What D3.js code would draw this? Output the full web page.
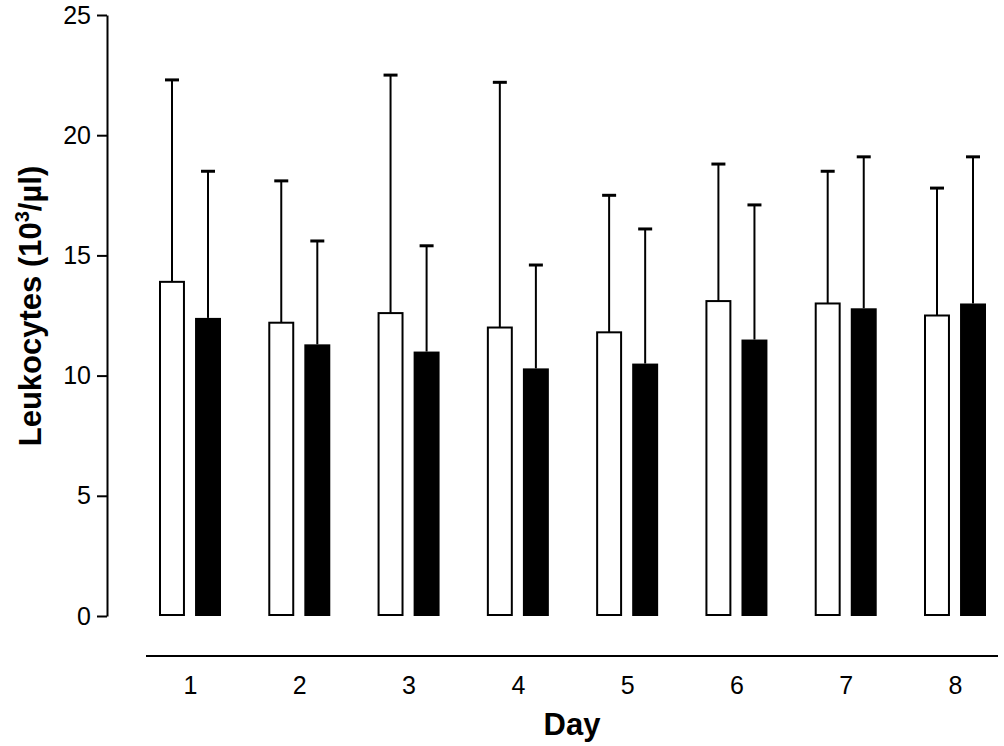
<html>
<script src='https://d3js.org/d3.v7.min.js'></script>
<style>
  body { margin: 0; background: #fff; }
  text { font-family: 'Liberation Sans', Arial, sans-serif; fill: #000; }
</style>
<body onload='init()'>
<svg width=1004 height=746></svg>
<script>
// data
var days = ["1", "2", "3", "4", "5", "6", "7", "8"];
var groups = ["open", "filled"];
var openMean = [13.9, 12.2, 12.6, 12.0, 11.8, 13.1, 13.0, 12.5];
var openUpper = [22.3, 18.1, 22.5, 22.2, 17.5, 18.8, 18.5, 17.8];
var filledMean = [12.4, 11.3, 11.0, 10.3, 10.5, 11.5, 12.8, 13.0];
var filledUpper = [18.5, 15.6, 15.4, 14.6, 16.1, 17.1, 19.1, 19.1];
var yTicks = [0, 5, 10, 15, 20, 25];

function init() {
  var svg = d3.select("svg");

  var y = d3.scaleLinear().domain([0, 25]).range([616, 15]);
  var x = d3.scalePoint().domain(days).range([190, 955]);
  var xi = d3.scaleBand().domain(groups).range([-31, 31]).paddingInner(0.28);

  var rows = [];
  days.forEach(function(d, i) {
    rows.push({day: d, g: "open", mean: openMean[i], upper: openUpper[i]});
    rows.push({day: d, g: "filled", mean: filledMean[i], upper: filledUpper[i]});
  });

  // error whiskers (upper only)
  var bars = svg.append("g");
  bars.selectAll("line.err")
    .data(rows).enter().append("line")
    .attr("x1", function(d) { return x(d.day) + xi(d.g) + xi.bandwidth() / 2; })
    .attr("x2", function(d) { return x(d.day) + xi(d.g) + xi.bandwidth() / 2; })
    .attr("y1", function(d) { return y(d.mean); })
    .attr("y2", function(d) { return y(d.upper); })
    .attr("stroke", "#000").attr("stroke-width", 2);

  bars.selectAll("line.cap")
    .data(rows).enter().append("line")
    .attr("x1", function(d) { return x(d.day) + xi(d.g) + xi.bandwidth() / 2 - 7; })
    .attr("x2", function(d) { return x(d.day) + xi(d.g) + xi.bandwidth() / 2 + 7; })
    .attr("y1", function(d) { return y(d.upper); })
    .attr("y2", function(d) { return y(d.upper); })
    .attr("stroke", "#000").attr("stroke-width", 3);

  bars.selectAll("rect")
    .data(rows).enter().append("rect")
    .attr("x", function(d) { return x(d.day) + xi(d.g) + (d.g == "open" ? 1 : 0); })
    .attr("width", function(d) { return xi.bandwidth() - (d.g == "open" ? 2 : 0); })
    .attr("y", function(d) { return y(d.mean); })
    .attr("height", function(d) { return y(0) - y(d.mean) - (d.g == "open" ? 1 : 0); })
    .attr("fill", function(d) { return d.g == "open" ? "#fff" : "#000"; })
    .attr("stroke", function(d) { return d.g == "open" ? "#000" : "none"; })
    .attr("stroke-width", 2);

  // y axis
  var ya = svg.append("g")
    .attr("transform", "translate(107,0)")
    .call(d3.axisLeft(y).tickValues(yTicks).tickSize(10).tickSizeOuter(0).tickPadding(6));
  ya.selectAll("path, line").attr("stroke", "#000").attr("stroke-width", 2);
  ya.selectAll("text").style("font-size", "25px").attr("font-family", null);

  // x axis (labels only + separate baseline)
  var xa = svg.append("g")
    .attr("transform", "translate(0,656)")
    .call(d3.axisBottom(x).tickSize(0).tickPadding(20));
  xa.select(".domain").remove();
  xa.selectAll("text").style("font-size", "25px").attr("font-family", null);
  svg.append("line")
    .attr("x1", x("1") - 44).attr("x2", x("8") + 43)
    .attr("y1", 656).attr("y2", 656)
    .attr("stroke", "#000").attr("stroke-width", 2);

  svg.append("text")
    .attr("x", 572).attr("y", 735)
    .attr("text-anchor", "middle")
    .style("font-size", "31px").style("font-weight", "bold")
    .text("Day");

  var yt = svg.append("text")
    .attr("transform", "translate(41,306) rotate(-90)")
    .attr("text-anchor", "middle")
    .style("font-size", "31px").style("font-weight", "bold");
  yt.append("tspan").text("Leukocytes (10");
  yt.append("tspan").attr("dy", -12).style("font-size", "20px").text("3");
  yt.append("tspan").attr("dy", 12).text("/\u00b5l)");
}
</script>
</body>
</html>
